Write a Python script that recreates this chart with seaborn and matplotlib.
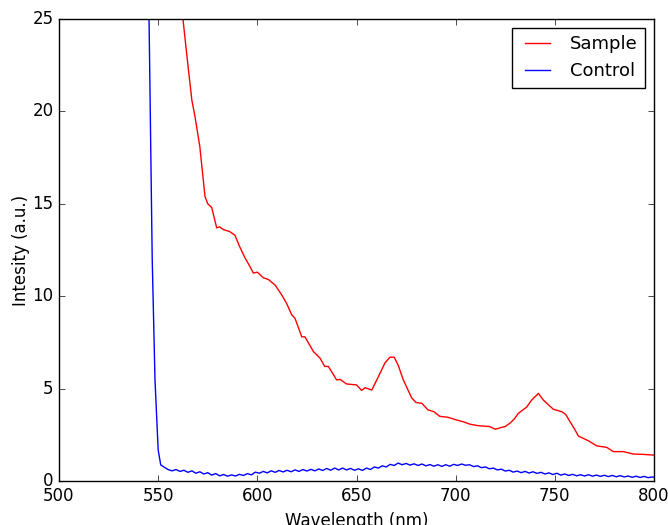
import seaborn as sns
import matplotlib.pyplot as plt
import pandas as pd
import numpy as np

# Sample emission spectrum
sample_wl = [556, 560, 562.5, 565, 567, 568.6, 571, 573.6, 575, 577,
             579.5, 581, 583, 586, 588.7, 591, 593.8, 596.3, 598, 600,
             603, 605.6, 609, 612.3, 614.8, 617.3, 619, 622.4, 624, 628.3,
             631.6, 634, 635.8, 640, 641.7, 645, 650, 652.6, 654.3, 657.7,
             661, 664.4, 666.9, 669, 671, 673.6, 677.8, 680, 683, 686,
             689, 692, 696, 700.5, 704, 707, 711, 714, 717, 720,
             722.4, 725, 727.5, 729.5, 731.6, 735.8, 738.3, 741.7, 744.2, 747,
             749.3, 753.5, 755.5, 757.7, 760, 761.9, 766.9, 771.1, 776.2, 779.5,
             784.6, 789.6, 794.6, 800]
sample_int = [32, 27.5, 25, 22.5, 20.6, 19.7, 18.1, 15.4, 15.0, 14.8,
              13.7, 13.75, 13.6, 13.5, 13.3, 12.7, 12.07, 11.6, 11.25, 11.3,
              11.0, 10.9, 10.6, 10.07, 9.6, 9.0, 8.8, 7.8, 7.8, 7.0,
              6.65, 6.2, 6.2, 5.47, 5.5, 5.25, 5.2, 4.9, 5.05, 4.92,
              5.64, 6.4, 6.7, 6.7, 6.27, 5.47, 4.5, 4.25, 4.2, 3.85,
              3.75, 3.5, 3.45, 3.3, 3.2, 3.08, 3.0, 2.97, 2.95, 2.8,
              2.88, 2.95, 3.14, 3.35, 3.66, 4.0, 4.38, 4.74, 4.38, 4.1,
              3.88, 3.75, 3.6, 3.2, 2.8, 2.43, 2.18, 1.9, 1.82, 1.59,
              1.59, 1.46, 1.44, 1.4]

# Control spectrum
control_wl = [544, 545.4, 547, 548.4, 550, 551.3] + list(range(553, 800, 2)) + [800]
control_int = [40, 25, 12, 5.47, 1.68, 0.87,
               0.75, 0.62, 0.55, 0.62, 0.52, 0.58, 0.47, 0.55, 0.42, 0.50,
               0.38, 0.45, 0.32, 0.40, 0.28, 0.35, 0.26, 0.33, 0.27, 0.36,
               0.30, 0.40, 0.33, 0.48, 0.42, 0.52, 0.44, 0.55, 0.47, 0.57,
               0.49, 0.58, 0.50, 0.60, 0.52, 0.62, 0.54, 0.63, 0.55, 0.65,
               0.57, 0.68, 0.58, 0.70, 0.60, 0.70, 0.60, 0.68, 0.58, 0.66,
               0.57, 0.70, 0.62, 0.76, 0.70, 0.82, 0.76, 0.90, 0.84, 0.97,
               0.88, 0.95, 0.86, 0.93, 0.84, 0.92, 0.82, 0.89, 0.80, 0.88,
               0.79, 0.88, 0.80, 0.90, 0.84, 0.92, 0.85, 0.88, 0.78, 0.82,
               0.72, 0.76, 0.66, 0.70, 0.60, 0.64, 0.54, 0.58, 0.48, 0.54,
               0.45, 0.52, 0.43, 0.50, 0.41, 0.47, 0.38, 0.44, 0.35, 0.42,
               0.32, 0.38, 0.30, 0.36, 0.28, 0.34, 0.27, 0.34, 0.26, 0.32,
               0.25, 0.31, 0.24, 0.30, 0.23, 0.29, 0.22, 0.27, 0.20, 0.26,
               0.19, 0.25, 0.18, 0.22,
               0.20]

sample = pd.DataFrame({'wl': sample_wl, 'I': sample_int})
control = pd.DataFrame({'wl': control_wl, 'I': control_int})

plt.style.use('classic')
plt.rcParams['figure.facecolor'] = 'white'
plt.rcParams['savefig.facecolor'] = 'white'

fig = plt.figure(figsize=(6.68, 5.25), dpi=100)
ax = fig.add_axes([59/668, 44/525, 595/668, 462/525])

sns.lineplot(data=sample, x='wl', y='I', color='r', label='Sample',
             linewidth=1.0, ax=ax)
sns.lineplot(data=control, x='wl', y='I', color='b', label='Control',
             linewidth=1.0, ax=ax)

ax.set_xlim(500, 800)
ax.set_ylim(0, 25)
ax.set_xticks(np.arange(500, 801, 50))
ax.set_yticks(np.arange(0, 26, 5))
ax.set_xlabel('Wavelength (nm)')
ax.set_ylabel('Intesity (a.u.)', labelpad=2)
ax.legend(loc='upper right', fontsize=13)

plt.savefig('out.png', dpi=100)
